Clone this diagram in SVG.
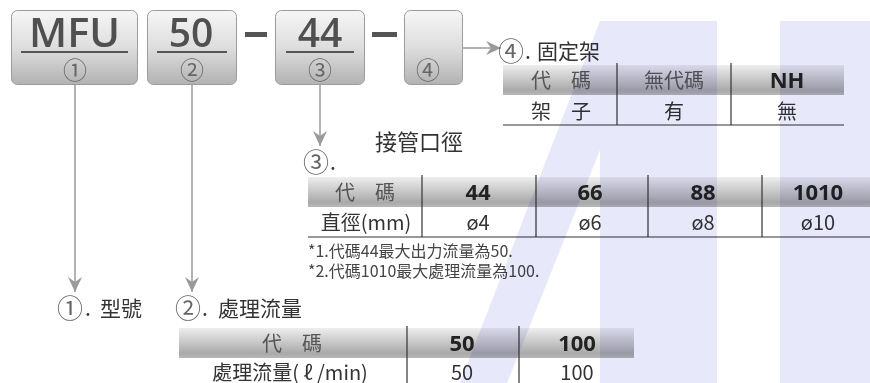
<svg xmlns="http://www.w3.org/2000/svg" width="870" height="383" viewBox="0 0 870 383">
<defs>
<linearGradient id="boxg" x1="0" y1="0" x2="0" y2="1">
<stop offset="0" stop-color="#f6f6f6"/><stop offset="0.5" stop-color="#dedede"/><stop offset="1" stop-color="#b2b2b2"/>
</linearGradient>
<linearGradient id="hdrg" x1="0" y1="0" x2="0" y2="1">
<stop offset="0" stop-color="#eeeeee"/><stop offset="0.85" stop-color="#a9a9a9"/><stop offset="1" stop-color="#b8b8b8"/>
</linearGradient>
<marker id="arr" viewBox="-16 -8 17 16" refX="0" refY="0" markerWidth="17" markerHeight="16" markerUnits="userSpaceOnUse" orient="auto">
<path d="M0,0 L-15,-7 L-10,0 L-15,7 Z" fill="#9a9a9a"/>
</marker>
<style>
.box{fill:url(#boxg);stroke:#9c9c9c;stroke-width:1}
.code{font-family:"Open Sans","DejaVu Sans",sans-serif;font-weight:600;font-size:39px;fill:#505050;text-anchor:middle}
.ul{stroke:#555;stroke-width:2}
.circ{font-family:"Noto Sans CJK TC","DejaVu Sans",sans-serif;font-size:24px;fill:#666;text-anchor:middle}
.dash{fill:#555}
.con{stroke:#9a9a9a;stroke-width:1.5;fill:none;marker-end:url(#arr)}
.lbl{font-family:"Noto Sans CJK TC",sans-serif;font-size:21px;fill:#333}
.lc{font-family:"Noto Sans CJK TC",sans-serif;font-size:26px;fill:#666;text-anchor:middle}
.hdr{fill:url(#hdrg)}
.tl{stroke:#333;stroke-width:1.2}
.th{font-family:"Noto Sans CJK TC",sans-serif;font-size:20px;fill:#555;text-anchor:middle}
.thb{font-family:"Open Sans","Noto Sans CJK TC",sans-serif;font-weight:700;font-size:22px;fill:#222;text-anchor:middle}
.td{font-family:"Noto Sans CJK TC",sans-serif;font-size:20px;fill:#333;text-anchor:middle}
.note{font-family:"Noto Sans CJK TC",sans-serif;font-size:16px;fill:#444}
.wm{fill:#e8e8fb;mix-blend-mode:multiply}
</style>
</defs>
<rect x="0" y="0" width="870" height="383" fill="#ffffff"/>

<g id="box-mfu">
<rect class="box" x="11.5" y="10.5" width="126" height="74" rx="6"/>
<text class="code" x="74.5" y="47" textLength="91" lengthAdjust="spacingAndGlyphs">MFU</text>
<line class="ul" x1="21" y1="52" x2="128" y2="52"/>
<text class="circ" x="75" y="79">①</text>
</g>
<g id="box-50">
<rect class="box" x="147.5" y="10.5" width="89" height="74" rx="6"/>
<text class="code" x="191" y="47">50</text>
<line class="ul" x1="157" y1="52" x2="227" y2="52"/>
<text class="circ" x="192" y="79">②</text>
</g>
<rect class="dash" x="245" y="32" width="22" height="5"/>
<g id="box-44">
<rect class="box" x="275.5" y="10.5" width="89" height="74" rx="6"/>
<text class="code" x="320" y="47">44</text>
<line class="ul" x1="286" y1="52" x2="354" y2="52"/>
<text class="circ" x="320" y="79">③</text>
</g>
<rect class="dash" x="372" y="32" width="25" height="5"/>
<g id="box-4">
<rect class="box" x="404.5" y="10.5" width="58" height="74" rx="6"/>
<text class="circ" x="428" y="79">④</text>
</g>

<g id="connectors">
<line class="con" x1="75" y1="85" x2="75" y2="292"/>
<line class="con" x1="192" y1="85" x2="192" y2="292"/>
<line class="con" x1="320" y1="85" x2="320" y2="146"/>
<line class="con" x1="463" y1="48" x2="501" y2="48"/>
</g>

<g id="label-1">
<text class="lc" x="70" y="318">①</text>
<text class="lbl" x="85" y="316">.</text>
<text class="lbl" x="100" y="316">型號</text>
</g>

<g id="label-2">
<text class="lc" x="188" y="318">②</text>
<text class="lbl" x="202" y="316">.</text>
<text class="lbl" x="218" y="316">處理流量</text>
<rect class="hdr" x="179" y="328" width="455" height="30"/>
<line class="tl" x1="407" y1="326" x2="407" y2="383"/>
<line class="tl" x1="519" y1="326" x2="519" y2="383"/>
<text class="th" x="292" y="351">代　碼</text>
<text class="thb" x="462" y="351">50</text>
<text class="thb" x="577" y="351">100</text>
<text class="td" x="290" y="380">處理流量( ℓ /min)</text>
<text class="td" x="462" y="380">50</text>
<text class="td" x="577" y="380">100</text>
</g>

<g id="label-3">
<text class="lbl" x="375" y="150" style="font-size:22px">接管口徑</text>
<text class="lc" x="316" y="172">③</text>
<text class="lbl" x="330" y="170">.</text>
<rect class="hdr" x="308" y="177" width="562" height="30"/>
<line class="tl" x1="422" y1="175" x2="422" y2="237"/>
<line class="tl" x1="536" y1="175" x2="536" y2="237"/>
<line class="tl" x1="648" y1="175" x2="648" y2="237"/>
<line class="tl" x1="762" y1="175" x2="762" y2="237"/>
<line class="tl" x1="308" y1="237" x2="870" y2="237"/>
<text class="th" x="365" y="200">代　碼</text>
<text class="thb" x="478" y="200">44</text>
<text class="thb" x="590" y="200">66</text>
<text class="thb" x="703" y="200">88</text>
<text class="thb" x="818" y="200">1010</text>
<text class="td" x="366" y="230">直徑(mm)</text>
<text class="td" x="478" y="230">ø4</text>
<text class="td" x="590" y="230">ø6</text>
<text class="td" x="703" y="230">ø8</text>
<text class="td" x="818" y="230">ø10</text>
<text class="note" x="308" y="257">*1.代碼44最大出力流量為50.</text>
<text class="note" x="308" y="277">*2.代碼1010最大處理流量為100.</text>
</g>

<g id="label-4">
<text class="lc" x="511" y="61">④</text>
<text class="lbl" x="525" y="59">.</text>
<text class="lbl" x="537" y="59">固定架</text>
<rect class="hdr" x="503" y="65" width="341" height="30"/>
<line class="tl" x1="617" y1="63" x2="617" y2="125"/>
<line class="tl" x1="731" y1="63" x2="731" y2="125"/>
<line class="tl" x1="503" y1="125" x2="844" y2="125"/>
<text class="th" x="561" y="88">代　碼</text>
<text class="th" x="674" y="88">無代碼</text>
<text class="thb" x="787" y="88">NH</text>
<text class="td" x="561" y="119">架　子</text>
<text class="td" x="674" y="119">有</text>
<text class="td" x="787" y="119">無</text>
</g>

<g id="watermark">
<polygon class="wm" points="600,21 717,21 717,383 600,383 600,150 507,383 460,383"/>
<rect class="wm" x="780" y="21" width="90" height="362"/>
</g>
</svg>
